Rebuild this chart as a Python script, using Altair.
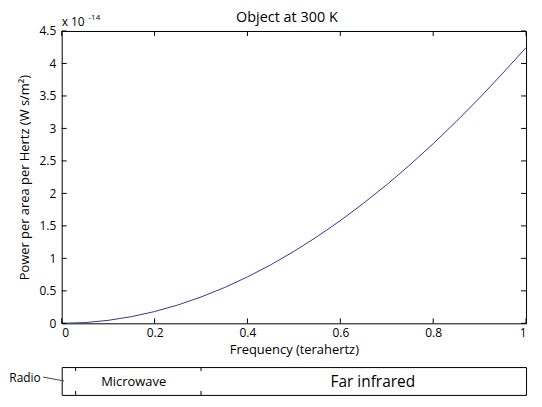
import altair as alt
import pandas as pd

# ---- data (values in units of 1e-14 W s/m^2) ----
freq = [0.0, 0.05, 0.1, 0.15, 0.2, 0.25, 0.3, 0.35, 0.4, 0.45, 0.5,
        0.55, 0.6, 0.65, 0.7, 0.75, 0.8, 0.85, 0.9, 0.95, 1.0]
power = [0.0, 0.0115, 0.0457, 0.1025, 0.181, 0.282, 0.405, 0.549, 0.714, 0.900, 1.107,
         1.334, 1.581, 1.848, 2.134, 2.440, 2.765, 3.109, 3.471, 3.851, 4.245]
x_ticks = [0, 0.2, 0.4, 0.6, 0.8, 1]
y_ticks = [0, 0.5, 1, 1.5, 2, 2.5, 3, 3.5, 4, 4.5]
band_edges = [0.03, 0.3]
band_names = ["Microwave", "Far infrared"]
band_centers = [0.155, 0.67]
band_sizes = [13, 15.5]
title_text = "Object at 300 K"

FONT = "Open Sans"
W, H = 467, 294
BH = 28
LINE_COLOR = "#35358f"

xscale = alt.Scale(domain=[0, 1], nice=False, zero=False)
yscale = alt.Scale(domain=[0, 4.5], nice=False)
xaxis = alt.Axis(values=x_ticks, title="Frequency (terahertz)", ticks=False,
                 domain=False, grid=False, labelExpr="datum.value",
                 labelPadding=4, titlePadding=5, labelFontSize=12, titleFontSize=13,
                 titleFontWeight="normal", labelFont=FONT, titleFont=FONT,
                 labelColor="black", titleColor="black")
yaxis = alt.Axis(values=y_ticks, title="Power per area per Hertz (W s/m²)",
                 ticks=False, domain=False, grid=False, labelExpr="datum.value",
                 labelPadding=6, titlePadding=8, labelFontSize=12, titleFontSize=13,
                 titleFontWeight="normal", labelFont=FONT, titleFont=FONT,
                 labelColor="black", titleColor="black")

df = pd.DataFrame({"f": freq, "p": power})
xt = pd.DataFrame({"f": x_ticks})
yt = pd.DataFrame({"p": y_ticks})


def X(field="f"):
    return alt.X(f"{field}:Q", scale=xscale, axis=xaxis)


def Y(field="p"):
    return alt.Y(f"{field}:Q", scale=yscale, axis=yaxis)


line = alt.Chart(df).mark_line(color=LINE_COLOR, strokeWidth=1).encode(x=X(), y=Y())

tick_b = alt.Chart(xt).mark_rule(color="black").encode(
    x=X(), y=alt.value(H), y2=alt.value(H - 5))
tick_t = alt.Chart(xt).mark_rule(color="black").encode(
    x=X(), y=alt.value(0), y2=alt.value(5))
tick_l = alt.Chart(yt).mark_rule(color="black").encode(
    y=Y(), x=alt.value(0), x2=alt.value(5))
tick_r = alt.Chart(yt).mark_rule(color="black").encode(
    y=Y(), x=alt.value(W - 5), x2=alt.value(W))

mult = pd.DataFrame({"f": [0], "p": [4.5]})
mult_txt = alt.Chart(mult).mark_text(text="x 10", align="left", baseline="bottom",
                                     dy=-2, fontSize=12, font=FONT, color="black").encode(
    x=X(), y=Y())
mult_exp = alt.Chart(mult).mark_text(text="-14", align="left", baseline="bottom",
                                     dx=27, dy=-9, fontSize=8, font=FONT, color="black").encode(
    x=X(), y=Y())
ttl = alt.Chart(pd.DataFrame({"f": [0.485], "p": [4.5], "t": [title_text]})).mark_text(
    align="center", baseline="alphabetic", dy=-9, fontSize=14.5, font=FONT,
    color="black").encode(x=X(), y=Y(), text="t:N")

top = alt.layer(line, tick_b, tick_t, tick_l, tick_r, mult_txt, mult_exp, ttl).properties(
    width=W, height=H)

# ---- band chart ----
be = pd.DataFrame({"v": band_edges})
bl = pd.DataFrame({"name": band_names, "c": band_centers, "s": band_sizes})

btick_t = alt.Chart(be).mark_rule(color="black").encode(
    x=alt.X("v:Q", scale=xscale, axis=None), y=alt.value(0), y2=alt.value(4))
btick_b = alt.Chart(be).mark_rule(color="black").encode(
    x=alt.X("v:Q", scale=xscale, axis=None), y=alt.value(BH - 4), y2=alt.value(BH))
blab = alt.Chart(bl).mark_text(baseline="middle", font=FONT, color="black").encode(
    x=alt.X("c:Q", scale=xscale, axis=None), y=alt.value(BH / 2 + 1),
    text="name:N", size=alt.Size("s:Q", scale=None, legend=None))
radio = alt.Chart(pd.DataFrame({"x": [-0.045], "t": ["Radio"]})).mark_text(
    align="right", baseline="middle", fontSize=12, font=FONT, color="black").encode(
    x=alt.X("x:Q", scale=xscale, axis=None), y=alt.value(11), text="t:N")
leader = alt.Chart(pd.DataFrame({"x": [-0.04], "x2": [0.005]})).mark_rule(
    color="#444444", strokeWidth=1).encode(
    x=alt.X("x:Q", scale=xscale, axis=None), x2="x2:Q", y=alt.value(10), y2=alt.value(14))

band = alt.layer(btick_t, btick_b, blab, radio, leader).properties(width=W, height=BH)

chart = alt.vconcat(top, band, spacing=44, bounds="flush").properties(
    padding={"left": 0, "top": 0, "right": 5, "bottom": 5}, background="white"
).configure_view(stroke="black", strokeWidth=1)

chart.save("out.html", embed_options={"renderer": "svg", "actions": False})
